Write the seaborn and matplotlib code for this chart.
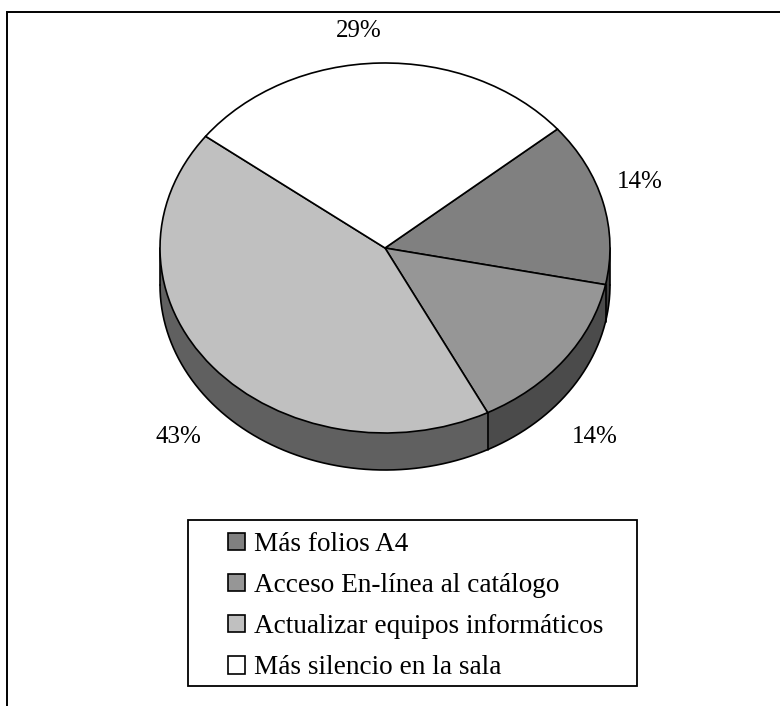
import numpy as np
import matplotlib
matplotlib.use("Agg")
import matplotlib.pyplot as plt
from matplotlib.patches import Rectangle
import seaborn as sns

# data
categories = ["Más folios A4", "Acceso En-línea al catálogo",
              "Actualizar equipos informáticos", "Más silencio en la sala"]
values = [1, 1, 3, 2]
top_colors = ["#808080", "#969696", "#C0C0C0", "#FFFFFF"]
side_colors = ["#404040", "#4B4B4B", "#606060", "#808080"]
label_px = [(639.5, 188), (595, 443), (178, 443), (358.5, 37)]

W, H = 780, 706
CX, CY, RX, RY = 385, 248, 225, 185
DEPTH = 37 / RY
START = 40

sns.set_theme(style="white")
plt.rcParams["font.family"] = ["Liberation Serif", "DejaVu Serif"]

fig = plt.figure(figsize=(W / 100, H / 100), dpi=100, facecolor="white")
ax = fig.add_axes([0, 0, 1, 1])

# side wall: stacked pies, one px apart
for off in np.linspace(DEPTH, 0, 38):
    ax.pie(values, colors=sns.color_palette(side_colors), startangle=START, counterclock=False,
           radius=1, center=(0, -off), wedgeprops={"linewidth": 0})

# outline of the wall
th = np.radians(np.linspace(180, 360, 200))
ax.plot(np.cos(th), np.sin(th) - DEPTH, color="black", lw=1.2, zorder=3)
for a in [180, 360]:
    ax.plot([np.cos(np.radians(a))] * 2, [0, -DEPTH], color="black", lw=1.2, zorder=3)

# vertical seams where slices meet on the visible side
bounds = START - np.cumsum(values) / sum(values) * 360
for a in bounds:
    x, y = np.cos(np.radians(a)), np.sin(np.radians(a))
    if y < 0:
        ax.plot([x, x], [y, y - DEPTH], color="black", lw=1.2, zorder=3)

wedges, _ = ax.pie(values, colors=sns.color_palette(top_colors), startangle=START, counterclock=False,
                   radius=1, center=(0, 0),
                   wedgeprops={"edgecolor": "black", "linewidth": 1.2, "zorder": 4})

ax.set_aspect("auto")
ax.set_xlim(-CX / RX, (W - CX) / RX)
ax.set_ylim((CY - H) / RY, CY / RY)
ax.axis("off")

for v, (px, py) in zip(values, label_px):
    pct = round(100 * v / sum(values))
    fig.text(px / W, 1 - py / H, f"{pct}%", fontsize=18, color="black",
             ha="center", va="baseline")

# outer frame: only top and left lines fall inside the picture
fig.add_artist(Rectangle((7 / W, -0.01), 1.1, 1.01 - 12 / H, transform=fig.transFigure,
                         fill=False, edgecolor="black", lw=1.4))

# legend box
fig.add_artist(Rectangle((187.5 / W, 1 - 686 / H), (637 - 187.5) / W, (686 - 520) / H,
                         transform=fig.transFigure, facecolor="white", edgecolor="black", lw=1.3))

leg = fig.legend(wedges, categories, loc="upper left",
                 bbox_to_anchor=(228 / W, 1 - 532 / H),
                 fontsize=19.6, frameon=False, labelcolor="black",
                 handlelength=0.63, handleheight=0.63, handletextpad=0.32,
                 labelspacing=0.59, borderaxespad=0, borderpad=0)
leg.set_zorder(5)

fig.savefig("out.png", dpi=100)
